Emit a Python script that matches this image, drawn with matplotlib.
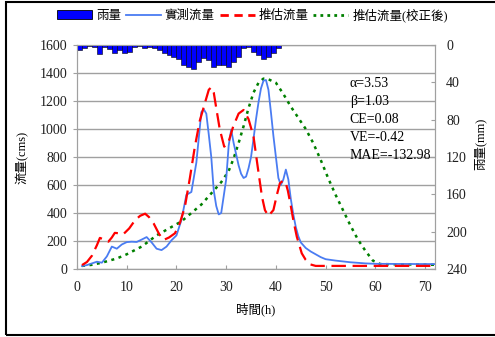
import matplotlib
matplotlib.use("Agg")
import matplotlib.pyplot as plt
from matplotlib.patches import Patch, Rectangle
from matplotlib.lines import Line2D

plt.rcParams['font.family'] = ['Liberation Serif', 'Noto Sans CJK TC']
plt.rcParams['font.size'] = 9

# 雨量 (mm), one bar per hour starting at hour 0
rain = [5.4, 3.6, 1.0, 1.8, 9.6, 1.8, 4.6, 8.2, 5.4, 8.9, 7.1, 1.8, 0.7, 2.9,
        1.8, 3.6, 5.4, 8.2, 10.7, 12.5, 15.4, 21.4, 23.9, 26.1, 17.9, 14.3,
        16.1, 23.9, 21.4, 21.4, 23.2, 17.9, 12.5, 3.6, 1.8, 7.1, 10.7, 15.4,
        12.5, 8.9, 3.6]
rain_hours = list(range(len(rain)))

# 實測流量
obs_t = [1, 2, 3, 4, 5, 6, 7, 8, 9, 10, 11, 12, 13, 14, 15, 16, 17, 18, 19,
         20, 21, 22, 23, 24, 25, 25.5, 26, 26.5, 27, 27.5, 28, 28.5, 29, 29.5,
         30, 30.5, 31, 31.5, 32, 32.5, 33, 33.5, 34, 34.5, 35, 35.5, 36, 36.5,
         37, 37.5, 38, 38.5, 39, 39.5, 40, 40.5, 41, 41.5, 42, 42.5, 43, 43.5,
         44, 44.5, 45, 46, 47, 48, 49, 50, 52, 55, 58, 60, 65, 72]
obs_q = [21, 28, 40, 52, 45, 90, 160, 145, 175, 192, 195, 193, 210, 228, 190,
         145, 135, 160, 205, 240, 350, 530, 550, 760, 1120, 1140, 1110, 960,
         800, 560, 450, 390, 400, 520, 640, 880, 995, 900, 820, 740, 680, 650,
         660, 720, 800, 930, 1070, 1190, 1290, 1345, 1350, 1280, 1120, 950,
         800, 650, 600, 640, 710, 640, 500, 390, 300, 235, 190, 150, 125, 105,
         85, 70, 60, 48, 40, 37, 36, 35]

# 推估流量
est_t = [1, 2, 3, 4, 4.6, 5.5, 6.3, 7, 7.6, 8.5, 9.3, 10.5, 11.7, 12.7, 13.7,
         14.5, 15.4, 16.5, 17.4, 18.5, 19.7, 20.7, 21.7, 22.7, 23.7, 24.7,
         25.8, 26.5, 27, 27.5, 28, 28.7, 29.6, 30.4, 31.4, 32.5, 33.5, 34.5,
         35.5, 36.3, 37.2, 37.8, 38.5, 39.5, 40.2, 40.8, 41.4, 41.9, 42.4,
         42.9, 43.5, 44.2, 45.2, 46, 46.9, 48, 72]
est_q = [28, 50, 95, 170, 222, 210, 195, 225, 258, 255, 248, 290, 350, 380,
         395, 370, 326, 250, 207, 225, 255, 330, 445, 650, 874, 1060, 1195,
         1280, 1298, 1260, 1150, 1000, 874, 898, 1017, 1110, 1136, 1070, 945,
         740, 516, 420, 379, 421, 530, 612, 630, 624, 560, 469, 350, 231, 112,
         65, 33, 22, 22]

# 推估流量(校正後)
cor_t = [1, 3, 5, 8, 10, 13, 16, 19, 21, 23, 25, 27, 29, 30.5, 31.5, 32.5,
         33.5, 34.5, 35.5, 36.5, 37.5, 38.5, 40, 41.5, 43, 44.5, 46, 47.5, 49,
         50.5, 52, 53.5, 55, 56.5, 58, 59.5, 61, 72]
cor_q = [22, 30, 45, 75, 105, 160, 240, 300, 340, 400, 460, 540, 620, 700,
         790, 900, 1020, 1150, 1260, 1330, 1360, 1355, 1330, 1250, 1160, 1080,
         1000, 900, 780, 650, 530, 420, 310, 210, 130, 60, 35, 30]

stats = ["\u03b1=3.53", "\u03b2=1.03", "CE=0.08", "VE=-0.42", "MAE=-132.98"]

fig = plt.figure(figsize=(4.95, 3.37), dpi=100)
ax = fig.add_axes([0.1556, 0.2018, 0.7232, 0.6647])

grid_c = '#a0a0a0'
ax.set_xlim(0, 72)
ax.set_ylim(0, 1600)
ax.set_yticks(range(0, 1601, 200))
ax.set_xticks(range(0, 71, 10))
ax.yaxis.grid(True, color=grid_c, lw=1)
ax.set_axisbelow(True)
for s in ax.spines.values():
    s.set_color(grid_c)
ax.tick_params(axis='both', colors='#202020', labelsize=10, length=3,
               width=0.8, color=grid_c)
ax.tick_params(axis='x', direction='in', pad=9)
ax.tick_params(axis='y', direction='out', pad=4)

ax.plot(cor_t, cor_q, color='#008000', lw=1.8, ls=(0, (1.2, 1.8)))
ax.plot(obs_t, obs_q, color='#4a7cf2', lw=1.3)
ax.plot(est_t, est_q, color='#ff0000', lw=1.6, ls=(0, (6.5, 3)))

ax.set_xlabel('時間(h)', fontsize=9, labelpad=6)
ax.set_ylabel('流量(cms)', fontsize=9, labelpad=8)

# rain hyetograph hanging from the top on the right axis
ax2 = ax.twinx()
ax2.bar(rain_hours, rain, width=1, align='edge', color='#0000ff',
        edgecolor='#000000', lw=0.4)
ax2.set_ylim(240, 0)
ax2.set_yticks(range(0, 241, 40))
for s in ax2.spines.values():
    s.set_color(grid_c)
ax2.tick_params(axis='y', direction='in', colors='#202020', labelsize=10,
                length=3, width=0.8, color=grid_c, pad=8)
ax2.set_ylabel('雨量(mm)', fontsize=9, rotation=90, va='center')
ax2.yaxis.set_label_coords(1.125, 0.56)

for i, s in enumerate(stats):
    ax.text(0.762, 0.83 - i * 0.081, s, transform=ax.transAxes,
            fontsize=10, ha='left', va='center')

handles = [Patch(facecolor='#0000ff', edgecolor='#000000', lw=0.6),
           Line2D([], [], color='#4a7cf2', lw=1.3),
           Line2D([], [], color='#ff0000', lw=2, ls=(0, (3, 2))),
           Line2D([], [], color='#008000', lw=2, ls=(0, (1, 1.5)))]
labels = ['雨量', '實測流量', '推估流量', '推估流量(校正後)']
fig.legend(handles, labels, loc='center', bbox_to_anchor=(0.51, 0.955),
           ncol=4, frameon=False, fontsize=9, handlelength=2.8,
           handletextpad=0.3, columnspacing=0.4)

# outer frame, right edge runs off the canvas
fig.add_artist(Rectangle((0.012, 0.006), 1.0, 0.988,
                         transform=fig.transFigure, fill=False,
                         edgecolor='#000000', lw=1.5))

fig.savefig('out.png', dpi=100)
